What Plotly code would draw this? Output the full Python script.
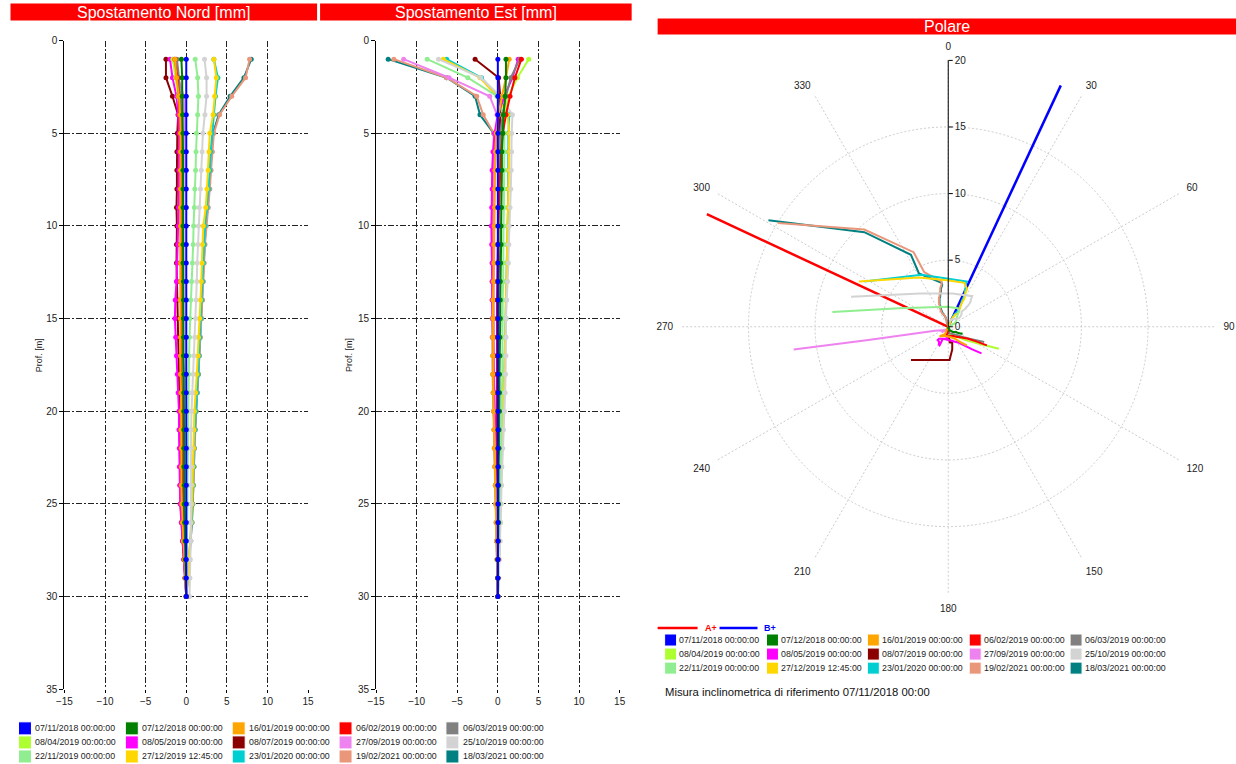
import numpy as np
import plotly.graph_objects as go

W, H = 1236, 764

depths = list(range(1, 31))

dates = ["07/11/2018 00:00:00", "07/12/2018 00:00:00", "16/01/2019 00:00:00", "06/02/2019 00:00:00",
         "06/03/2019 00:00:00", "08/04/2019 00:00:00", "08/05/2019 00:00:00", "08/07/2019 00:00:00",
         "27/09/2019 00:00:00", "25/10/2019 00:00:00", "22/11/2019 00:00:00", "27/12/2019 12:45:00",
         "23/01/2020 00:00:00", "19/02/2021 00:00:00", "18/03/2021 00:00:00"]
colors = ["#0000FF", "#008000", "#FFA500", "#FF0000", "#808080", "#ADFF2F", "#FF00FF", "#8B0000",
          "#EE82EE", "#D3D3D3", "#90EE90", "#FFD700", "#00CED1", "#E9967A", "#008080"]

# ---- Spostamento Nord [mm] (depth 1..30 m) ----
n_0711_18 = [0, 0, 0, 0, 0, 0, 0, 0, 0, 0, 0, 0, 0, 0, 0, 0, 0, 0, 0, 0, 0, 0, 0, 0, 0, 0, 0, 0, 0, 0]
n_0712_18 = [-0.6, -0.5, -0.5, -0.45, -0.4, -0.4, -0.4, -0.4, -0.4, -0.4, -0.4, -0.4, -0.35, -0.35, -0.35,
             -0.35, -0.35, -0.3, -0.3, -0.3, -0.3, -0.3, -0.3, -0.25, -0.25, -0.2, -0.15, -0.1, -0.05, 0.0]
n_1601_19 = [-1.4, -1.2, -0.9, -0.75, -0.7, -0.7, -0.7, -0.7, -0.7, -0.7, -0.7, -0.7, -0.7, -0.75, -0.75,
             -0.7, -0.7, -0.7, -0.65, -0.65, -0.65, -0.6, -0.6, -0.6, -0.55, -0.45, -0.35, -0.2, -0.1, 0.0]
n_0602_19 = [-1.4, -1.1, -0.9, -0.8, -0.75, -0.7, -0.7, -0.7, -0.7, -0.7, -0.7, -0.7, -0.7, -0.7, -0.7,
             -0.7, -0.65, -0.65, -0.6, -0.6, -0.6, -0.55, -0.55, -0.5, -0.5, -0.4, -0.3, -0.2, -0.1, 0.0]
n_0603_19 = [-1.15, -0.9, -0.75, -0.6, -0.55, -0.5, -0.5, -0.5, -0.5, -0.5, -0.5, -0.5, -0.5, -0.5, -0.5,
             -0.5, -0.45, -0.45, -0.45, -0.4, -0.4, -0.4, -0.35, -0.35, -0.3, -0.25, -0.2, -0.1, -0.05, 0.0]
n_0804_19 = [-1.65, -1.3, -1.0, -0.8, -0.7, -0.65, -0.65, -0.6, -0.6, -0.6, -0.6, -0.6, -0.6, -0.65, -0.65,
             -0.6, -0.6, -0.6, -0.55, -0.55, -0.55, -0.5, -0.5, -0.45, -0.45, -0.4, -0.3, -0.2, -0.1, 0.0]
n_0805_19 = [-2.0, -1.7, -1.2, -1.0, -0.9, -0.9, -0.9, -0.9, -0.95, -1.0, -1.05, -1.1, -1.2, -1.35, -1.4,
             -1.3, -1.2, -1.1, -1.0, -0.9, -0.9, -0.85, -0.85, -0.8, -0.75, -0.6, -0.45, -0.3, -0.15, 0.0]
n_0807_19 = [-2.5, -2.5, -1.7, -1.0, -1.1, -1.15, -1.15, -1.15, -1.2, -1.15, -1.2, -1.2, -1.15, -1.1, -1.0,
             -0.95, -0.9, -0.9, -0.85, -0.8, -0.8, -0.8, -0.75, -0.75, -0.7, -0.6, -0.45, -0.3, -0.15, 0.0]
n_2709_19 = [-1.7, -1.0, -0.3, -0.25, -0.3, -0.3, -0.3, -0.35, -0.35, -0.35, -0.35, -0.4, -0.4, -0.4, -0.4,
             -0.4, -0.4, -0.4, -0.35, -0.35, -0.35, -0.3, -0.3, -0.3, -0.25, -0.2, -0.15, -0.1, -0.05, 0.0]
n_2510_19 = [2.25, 2.5, 2.5, 2.3, 2.05, 1.95, 1.85, 1.75, 1.6, 1.5, 1.45, 1.35, 1.3, 1.2, 1.15,
             1.05, 0.95, 0.85, 0.75, 0.65, 0.6, 0.6, 0.6, 0.6, 0.6, 0.55, 0.55, 0.5, 0.45, 0.4]
n_2211_19 = [1.1, 1.4, 1.5, 1.4, 1.25, 1.2, 1.15, 1.05, 1.0, 0.9, 0.85, 0.75, 0.65, 0.55, 0.45,
             0.4, 0.35, 0.3, 0.3, 0.25, 0.25, 0.2, 0.2, 0.15, 0.15, 0.1, 0.1, 0.05, 0.05, 0.0]
n_2712_19 = [3.4, 3.7, 3.5, 3.3, 2.9, 2.8, 2.7, 2.55, 2.4, 2.1, 2.0, 1.95, 1.85, 1.75, 1.65,
             1.5, 1.45, 1.3, 1.15, 1.0, 0.95, 0.9, 0.8, 0.75, 0.7, 0.6, 0.5, 0.3, 0.2, 0.0]
n_2301_20 = [3.4, 3.9, 3.6, 3.4, 3.15, 3.0, 2.9, 2.75, 2.55, 2.3, 2.2, 2.1, 2.0, 1.9, 1.8,
             1.65, 1.55, 1.45, 1.3, 1.15, 1.05, 0.95, 0.9, 0.85, 0.75, 0.65, 0.5, 0.35, 0.2, 0.0]
n_1902_21 = [7.8, 7.3, 5.6, 4.1, 3.4, 3.2, 3.05, 2.9, 2.7, 2.45, 2.3, 2.2, 2.1, 2.0, 1.9,
             1.75, 1.6, 1.5, 1.35, 1.2, 1.1, 1.0, 0.95, 0.9, 0.8, 0.7, 0.55, 0.4, 0.2, 0.0]
n_1803_21 = [8.0, 7.1, 5.4, 4.0, 3.3, 3.15, 3.0, 2.85, 2.65, 2.4, 2.25, 2.15, 2.05, 1.95, 1.85,
             1.7, 1.6, 1.5, 1.35, 1.2, 1.1, 1.0, 0.95, 0.85, 0.8, 0.7, 0.55, 0.4, 0.2, 0.0]

# ---- Spostamento Est [mm] (depth 1..30 m) ----
e_0711_18 = [0, 0, 0, 0, 0, 0, 0, 0, 0, 0, 0, 0, 0, 0, 0, 0, 0, 0, 0, 0, 0, 0, 0, 0, 0, 0, 0, 0, 0, 0]
e_0712_18 = [1.0, 1.0, 0.9, 0.7, 0.6, 0.5, 0.5, 0.45, 0.45, 0.4, 0.4, 0.35, 0.3, 0.3, 0.3,
             0.25, 0.25, 0.2, 0.2, 0.2, 0.15, 0.15, 0.1, 0.1, 0.1, 0.1, 0.05, 0.0, 0.0, 0.0]
e_1601_19 = [1.4, 1.0, 0.5, 0.1, -0.2, -0.3, -0.35, -0.4, -0.4, -0.45, -0.5, -0.5, -0.55, -0.6, -0.6,
             -0.6, -0.6, -0.6, -0.55, -0.5, -0.45, -0.4, -0.35, -0.3, -0.25, -0.2, -0.15, -0.1, -0.05, 0.0]
e_0602_19 = [2.9, 2.1, 1.5, 1.0, 0.6, 0.4, 0.3, 0.2, 0.1, 0.05, 0.0, -0.05, -0.1, -0.1, -0.1,
             -0.1, -0.15, -0.15, -0.15, -0.1, -0.1, -0.1, -0.1, -0.05, -0.05, -0.05, 0.0, 0.0, 0.0, 0.0]
e_0603_19 = [2.7, 1.6, 1.0, 0.6, 0.3, 0.2, 0.15, 0.1, 0.1, 0.05, 0.05, 0.0, 0.0, 0.0, -0.05,
             -0.05, -0.05, -0.05, -0.05, 0.0, 0.0, 0.0, 0.0, 0.0, 0.0, 0.0, 0.0, 0.0, 0.0, 0.0]
e_0804_19 = [3.8, 2.4, 1.3, 0.8, 0.4, 0.3, 0.25, 0.2, 0.15, 0.1, 0.1, 0.05, 0.05, 0.0, 0.0,
             0.0, -0.05, -0.05, -0.05, -0.05, 0.0, 0.0, 0.0, 0.0, 0.0, 0.0, 0.0, 0.0, 0.0, 0.0]
e_0805_19 = [2.5, 1.8, 0.8, 0.0, -0.4, -0.6, -0.7, -0.7, -0.75, -0.8, -0.75, -0.7, -0.7, -0.7, -0.65,
             -0.6, -0.55, -0.5, -0.45, -0.4, -0.2, -0.1, -0.05, 0.0, 0.0, 0.05, 0.05, 0.05, 0.0, 0.0]
e_0807_19 = [-2.8, 0.1, 0.3, 0.3, 0.25, 0.2, 0.2, 0.2, 0.2, 0.15, 0.15, 0.15, 0.1, 0.1, 0.1,
             0.1, 0.05, 0.05, 0.05, 0.05, 0.05, 0.0, 0.0, 0.0, 0.0, 0.0, 0.0, 0.0, 0.0, 0.0]
e_2709_19 = [-11.6, -6.0, -1.0, -0.1, -0.2, -0.3, -0.35, -0.4, -0.4, -0.45, -0.45, -0.45, -0.5, -0.5, -0.5,
             -0.5, -0.45, -0.45, -0.4, -0.4, -0.35, -0.3, -0.25, -0.2, -0.2, -0.15, -0.1, -0.05, 0.0, 0.0]
e_2510_19 = [-7.3, -2.1, 0.3, 1.8, 1.7, 1.7, 1.65, 1.6, 1.5, 1.4, 1.35, 1.3, 1.2, 1.1, 1.0,
             1.0, 1.0, 0.95, 0.9, 0.8, 0.7, 0.6, 0.5, 0.45, 0.4, 0.35, 0.3, 0.2, 0.1, 0.05]
e_2211_19 = [-8.7, -3.7, -0.1, 0.7, 0.8, 0.8, 0.8, 0.75, 0.75, 0.7, 0.7, 0.65, 0.65, 0.6, 0.6,
             0.6, 0.55, 0.55, 0.5, 0.5, 0.45, 0.4, 0.35, 0.3, 0.3, 0.25, 0.2, 0.1, 0.05, 0.0]
e_2712_19 = [-6.7, -2.2, -0.1, 1.2, 1.4, 1.4, 1.35, 1.3, 1.25, 1.2, 1.15, 1.1, 1.05, 1.0, 0.95,
             0.9, 0.9, 0.85, 0.8, 0.7, 0.6, 0.5, 0.45, 0.4, 0.35, 0.3, 0.2, 0.15, 0.1, 0.0]
e_2301_20 = [-6.3, -2.0, 0.0, 1.4, 1.3, 1.3, 1.3, 1.25, 1.25, 1.2, 1.15, 1.1, 1.05, 1.0, 1.0,
             0.95, 0.9, 0.85, 0.8, 0.7, 0.6, 0.5, 0.45, 0.4, 0.35, 0.3, 0.2, 0.15, 0.1, 0.0]
e_1902_21 = [-12.8, -6.3, -2.6, -1.8, -0.5, -0.5, -0.55, -0.6, -0.6, -0.65, -0.65, -0.7, -0.7, -0.7, -0.7,
             -0.7, -0.65, -0.65, -0.6, -0.55, -0.5, -0.45, -0.4, -0.3, -0.25, -0.2, -0.15, -0.1, -0.05, 0.0]
e_1803_21 = [-13.5, -6.3, -2.8, -2.2, -0.5, -0.45, -0.5, -0.55, -0.55, -0.6, -0.6, -0.65, -0.65, -0.65, -0.65,
             -0.65, -0.6, -0.6, -0.55, -0.5, -0.45, -0.4, -0.35, -0.3, -0.25, -0.2, -0.15, -0.1, -0.05, 0.0]

nord = [n_0711_18, n_0712_18, n_1601_19, n_0602_19, n_0603_19, n_0804_19, n_0805_19, n_0807_19,
        n_2709_19, n_2510_19, n_2211_19, n_2712_19, n_2301_20, n_1902_21, n_1803_21]
est = [e_0711_18, e_0712_18, e_1601_19, e_0602_19, e_0603_19, e_0804_19, e_0805_19, e_0807_19,
       e_2709_19, e_2510_19, e_2211_19, e_2712_19, e_2301_20, e_1902_21, e_1803_21]

# guide directions (deg, clockwise from North) and length of guide lines
guide_names = ["A+", "B+"]
guide_angles = [295, 25]
guide_colors = ["#FF0000", "#0000FF"]
guide_len = 20

x_ticks = [-15, -10, -5, 0, 5, 10, 15]
y_ticks = [0, 5, 10, 15, 20, 25, 30, 35]
r_ticks = [0, 5, 10, 15, 20]
ang_ticks = [0, 30, 60, 90, 120, 150, 180, 210, 240, 270, 300, 330]

FONT = "Liberation Sans, Arial, sans-serif"

# mapping from target picture pixels to paper coordinates (compensates the page inset)
OX, SX = 1.5, 0.99
OY, SY = 6.5, 0.983


def X(px):
    return ((px - OX) / SX) / W


def Y(py):
    return 1 - ((py - OY) / SY) / H


fig = go.Figure()

for i in reversed(range(len(dates))):
    fig.add_trace(go.Scatter(x=nord[i], y=depths, xaxis="x", yaxis="y", mode="lines+markers",
                             name=dates[i], line=dict(color=colors[i], width=2),
                             marker=dict(color=colors[i], size=5), showlegend=False))
    fig.add_trace(go.Scatter(x=est[i], y=depths, xaxis="x2", yaxis="y2", mode="lines+markers",
                             name=dates[i], line=dict(color=colors[i], width=2),
                             marker=dict(color=colors[i], size=5), showlegend=False))

for g in range(2):
    fig.add_trace(go.Scatterpolar(r=[0, guide_len], theta=[guide_angles[g], guide_angles[g]], mode="lines",
                                  name=guide_names[g], line=dict(color=guide_colors[g], width=2.5),
                                  showlegend=False))

for i in reversed(range(len(dates))):
    n = np.array(nord[i], dtype=float)
    e = np.array(est[i], dtype=float)
    r = np.hypot(n, e)
    th = np.degrees(np.arctan2(e, n))
    fig.add_trace(go.Scatterpolar(r=r, theta=th, mode="lines", name=dates[i],
                                  line=dict(color=colors[i], width=2), showlegend=False))

GRID = dict(showgrid=True, gridcolor="#222222", gridwidth=1, griddash="6px,2px,2px,2px", zeroline=False)


def xax(dom):
    return dict(domain=dom, range=[-15, 15], tickvals=x_ticks, ticks="outside", ticklen=3,
                tickcolor="#000", tickfont=dict(size=10, color="#222", family=FONT), showline=False, **GRID)


def yax(anchor):
    return dict(domain=[Y(688), Y(42)], range=[35, 0], tickvals=y_ticks, ticks="outside", ticklen=4,
                tickcolor="#000", tickfont=dict(size=10, color="#222", family=FONT), showline=True,
                linecolor="#000", linewidth=1, anchor=anchor, **GRID)


fig.update_layout(
    width=W, height=H, margin=dict(l=0, r=0, t=0, b=0),
    paper_bgcolor="white", plot_bgcolor="white", showlegend=False,
    font=dict(family=FONT, size=10, color="#222"),
    xaxis=dict(anchor="y", **xax([X(58), X(302)])),
    yaxis=yax("x"),
    xaxis2=dict(anchor="y2", **xax([X(370), X(614)])),
    yaxis2=yax("x2"),
    polar=dict(
        domain=dict(x=[X(676), X(1210)], y=[Y(594), Y(60)]),
        bgcolor="white",
        angularaxis=dict(rotation=90, direction="clockwise", tickvals=ang_ticks, ticks="outside", ticklen=6,
                         tickcolor="rgba(0,0,0,0)",
                         showline=False, showgrid=True, gridcolor="#cccccc", griddash="2px,2px",
                         tickfont=dict(size=10, color="#222", family=FONT)),
        radialaxis=dict(range=[0, 20.02], tickvals=r_ticks, angle=90, side="clockwise", tickangle=90,
                        showline=True, linecolor="#000", linewidth=1, ticks="outside", ticklen=4,
                        tickcolor="#000", showgrid=True, gridcolor="#cccccc", griddash="2px,2px",
                        tickfont=dict(size=10, color="#222", family=FONT)),
    ),
)

shapes = []
annotations = []

# title bars
bars = [(4, 311, 5, 22, "Spostamento Nord [mm]"), (314, 626, 5, 22, "Spostamento Est [mm]"),
        (652, 1232, 20, 36, "Polare")]
for x0, x1, y0, y1, txt in bars:
    shapes.append(dict(type="rect", xref="paper", yref="paper", x0=X(x0), x1=X(x1), y0=Y(y1), y1=Y(y0),
                       fillcolor="#FF0000", line=dict(width=0), layer="below"))
    annotations.append(dict(text=txt, xref="paper", yref="paper", x=X((x0 + x1) / 2), y=Y((y0 + y1) / 2),
                            showarrow=False, xanchor="center", yanchor="middle",
                            font=dict(size=16, color="white", family=FONT)))

# y axis titles
for xp in (32, 343):
    annotations.append(dict(text="Prof. [m]", xref="paper", yref="paper", x=X(xp), y=Y(355), textangle=-90,
                            showarrow=False, xanchor="center", yanchor="middle",
                            font=dict(size=9, color="#222", family=FONT)))

LEG_FONT = 8.8

# legend under the two profile charts
left_cols = [12, 119, 226, 333, 440]
left_rows = [727, 741, 755]
for i, d in enumerate(dates):
    cx = left_cols[i % 5]
    cy = left_rows[i // 5]
    shapes.append(dict(type="rect", xref="paper", yref="paper", x0=X(cx), x1=X(cx + 13), y0=Y(cy + 6.5),
                       y1=Y(cy - 6.5), fillcolor=colors[i], line=dict(width=1, color="white")))
    annotations.append(dict(text=d, xref="paper", yref="paper", x=X(cx + 15), y=Y(cy), showarrow=False,
                            xanchor="left", yanchor="middle", font=dict(size=LEG_FONT, color="#222", family=FONT)))

# legend under polar chart
pol_cols = [659, 761, 862, 964, 1065]
pol_rows = [639, 653, 667]
for i, d in enumerate(dates):
    cx = pol_cols[i % 5]
    cy = pol_rows[i // 5]
    shapes.append(dict(type="rect", xref="paper", yref="paper", x0=X(cx), x1=X(cx + 12), y0=Y(cy + 6),
                       y1=Y(cy - 6), fillcolor=colors[i], line=dict(width=1, color="white")))
    annotations.append(dict(text=d, xref="paper", yref="paper", x=X(cx + 12.5), y=Y(cy), showarrow=False,
                            xanchor="left", yanchor="middle", font=dict(size=LEG_FONT, color="#222", family=FONT)))

# A+ / B+ guide legend
gl = [(652, 692, 697), (714, 752, 757)]
for g in range(2):
    x0, x1, xt = gl[g]
    shapes.append(dict(type="line", xref="paper", yref="paper", x0=X(x0), x1=X(x1), y0=Y(627), y1=Y(627),
                       line=dict(color=guide_colors[g], width=2.5)))
    annotations.append(dict(text="<b>" + guide_names[g] + "</b>", xref="paper", yref="paper", x=X(xt), y=Y(627),
                            showarrow=False, xanchor="left", yanchor="middle",
                            font=dict(size=9, color=guide_colors[g], family=FONT)))

annotations.append(dict(text="Misura inclinometrica di riferimento 07/11/2018 00:00", xref="paper", yref="paper",
                        x=X(657), y=Y(691), showarrow=False, xanchor="left", yanchor="middle",
                        font=dict(size=11.3, color="#111", family=FONT)))

fig.update_layout(shapes=shapes, annotations=annotations)

fig.write_html("out.html", config={"displayModeBar": False},
               post_script="document.body.style.margin='0px';document.body.style.overflow='hidden';"
                           "document.documentElement.style.overflow='hidden';")
